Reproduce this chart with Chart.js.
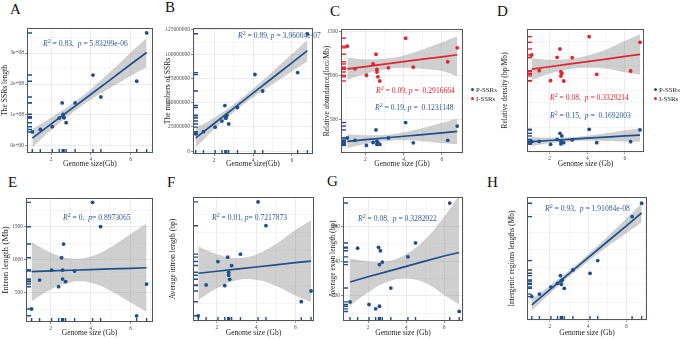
<!DOCTYPE html>
<html>
<head>
<meta charset="utf-8">
<script src="https://cdn.jsdelivr.net/npm/chart.js@4.4.1/dist/chart.umd.min.js"></script>
<style>
  body { margin: 0; background: #fff; width: 685px; height: 339px; position: relative; overflow: hidden; font-family: "Liberation Serif", serif; }
  .box { position: absolute; }
  .letter { position: absolute; font-size: 15px; line-height: 1; color: #111; }
  .ann { position: absolute; font-size: 7.6px; line-height: 1; white-space: nowrap; }
  .ann sup { font-size: 6px; vertical-align: 3px; }
  .blue { color: #2c5a98; }
  .red { color: #e3242b; }
  .leg { position: absolute; font-size: 6.8px; line-height: 1; color: #222; white-space: nowrap; }
  .dot { display: inline-block; width: 3px; height: 3px; border-radius: 50%; margin-right: 2px; vertical-align: 1px; }
</style>
</head>
<body>

<div class="letter" style="left:10px;top:2px">A</div>
<div class="letter" style="left:165px;top:0px">B</div>
<div class="letter" style="left:330px;top:4px">C</div>
<div class="letter" style="left:497px;top:4px">D</div>
<div class="letter" style="left:8px;top:175px">E</div>
<div class="letter" style="left:167px;top:175px">F</div>
<div class="letter" style="left:327px;top:174px">G</div>
<div class="letter" style="left:487px;top:175px">H</div>

<div class="box" style="left:0;top:0"><canvas id="chA" width="165" height="170"></canvas></div>
<div class="box" style="left:163px;top:0"><canvas id="chB" width="167" height="170"></canvas></div>
<div class="box" style="left:322px;top:0"><canvas id="chC" width="148" height="170"></canvas></div>
<div class="box" style="left:500px;top:0"><canvas id="chD" width="150" height="170"></canvas></div>
<div class="box" style="left:0;top:170px"><canvas id="chE" width="165" height="169"></canvas></div>
<div class="box" style="left:168px;top:170px"><canvas id="chF" width="160" height="169"></canvas></div>
<div class="box" style="left:328px;top:170px"><canvas id="chG" width="145" height="169"></canvas></div>
<div class="box" style="left:507px;top:170px"><canvas id="chH" width="150" height="169"></canvas></div>

<div class="ann blue" style="left:43px;top:38px"><i>R</i><sup>2</sup> = 0.83,&nbsp; <i>p</i> = 5.83299e-06</div>
<div class="ann blue" style="left:238px;top:30px"><i>R</i><sup>2</sup> = 0.89, <i>p</i> = 3.96004e-07</div>
<div class="ann red" style="left:376px;top:85px"><i>R</i><sup>2</sup> = 0.09, <i>p</i> = &nbsp;0.2916664</div>
<div class="ann blue" style="left:375px;top:102px"><i>R</i><sup>2</sup> = 0.19, <i>p</i> = &nbsp;0.1231148</div>
<div class="ann red" style="left:550px;top:92px"><i>R</i><sup>2</sup> = 0.08,&nbsp; <i>p</i> = 0.3329214</div>
<div class="ann blue" style="left:550px;top:110px"><i>R</i><sup>2</sup> = 0.15,&nbsp; <i>p</i> = &nbsp;0.1692003</div>
<div class="ann blue" style="left:63px;top:212px"><i>R</i><sup>2</sup> = 0,&nbsp; <i>p</i>= 0.8973065</div>
<div class="ann blue" style="left:212px;top:212px"><i>R</i><sup>2</sup> = 0.01, <i>p</i>= 0.7217873</div>
<div class="ann blue" style="left:358px;top:213px"><i>R</i><sup>2</sup> = 0.08,&nbsp; <i>p</i> = 0.3282922</div>
<div class="ann blue" style="left:545px;top:203px"><i>R</i><sup>2</sup> = 0.93,&nbsp; <i>p</i> = 1.91084e-08</div>

<div class="leg" style="left:471px;top:87px"><span class="dot" style="background:#1d4f8f"></span>P-SSRs</div>
<div class="leg" style="left:471px;top:96px"><span class="dot" style="background:#e3242b"></span>I-SSRs</div>
<div class="leg" style="left:654px;top:87px"><span class="dot" style="background:#1d4f8f"></span>P-SSRs</div>
<div class="leg" style="left:654px;top:96px"><span class="dot" style="background:#e3242b"></span>I-SSRs</div>

<script>
// genome size (Gb) of each species, x for every panel
const genomeSize = [1.05, 1.45, 2.05, 2.4, 2.55, 2.6, 2.6, 2.65, 2.75, 3.2, 4.1, 4.5, 6.3, 6.8];
// x where the fitted line and its confidence band were read
const fitX = [1.05, 2, 3, 4, 5, 6, 6.8];

// A: SSR length (x 1e8)
const ssrLength = [0.45, 0.53, 0.62, 0.90, 1.39, 1.02, 0.94, 0.91, 0.75, 1.39, 2.29, 1.58, 2.09, 3.65];
const ssrLengthFit = [0.25, 0.71, 1.19, 1.67, 2.15, 2.64, 3.02];
const ssrLengthHi = [0.55, 0.92, 1.34, 1.84, 2.41, 3.02, 3.49];
const ssrLengthLo = [-0.05, 0.51, 1.04, 1.50, 1.89, 2.26, 2.55];
const ssrLengthTicks = ["0e+00", "1e+08", "2e+08", "3e+08"];

// B: number of SSRs (millions)
const ssrCount = [17.9, 20, 24.7, 31, 47, 34, 35, 37, 28, 45, 79, 62, 81, 121];
const ssrCountFit = [13.6, 28.5, 44.1, 59.8, 75.4, 91.1, 103.6];
const ssrCountHi = [23.6, 34.5, 48.1, 64.3, 81.9, 100.1, 114.6];
const ssrCountLo = [3.6, 22.5, 40.1, 55.3, 68.9, 82.1, 92.6];

// C: relative abundance (loci/Mb)
const abundI = [1336, 1080, 1007, 1135, 1245, 1073, 1044, 989, 942, 1091, 1427, 1099, 1160, 1318];
const abundIFit = [1079, 1105, 1133, 1161, 1189, 1216, 1239];
const abundIHi = [1204, 1185, 1193, 1231, 1299, 1380, 1450];
const abundILo = [954, 1025, 1073, 1091, 1079, 1055, 995];
const abundP = [296, 270, 212, 245, 387, 223, 259, 240, 223, 296, 471, 241, 270, 431];
const abundPFit = [258, 277, 296, 316, 335, 355, 370];
const abundPHi = [338, 327, 331, 361, 410, 470, 515];
const abundPLo = [178, 227, 261, 271, 260, 240, 225];

// D: relative density (bp/Mb)
const densI = [39342, 33158, 29210, 38421, 41710, 32763, 31053, 32105, 29079, 38289, 46579, 31711, 33026, 44342];
const densIFit = [33735, 34700, 35710, 36730, 37740, 38760, 39570];
const densIHi = [38035, 37500, 37710, 39130, 41540, 44960, 47570];
const densILo = [29435, 31900, 33710, 34330, 33940, 32560, 31570];
const densP = [5132, 5200, 4079, 6053, 8421, 4211, 5132, 7368, 4737, 5789, 10000, 4737, 5132, 9737];
const densPFit = [5150, 5580, 6030, 6480, 6930, 7380, 7740];
const densPHi = [6950, 6680, 6830, 7480, 8430, 9580, 10440];
const densPLo = [3350, 4480, 5230, 5480, 5430, 5180, 5040];

// E: intron length (Mb)
const intronLen = [253, 692, 843, 591, 1030, 843, 707, 1237, 667, 828, 1869, 1500, 150, 631];
const intronLenFit = [820, 830, 840, 850, 860, 870, 878];
const intronLenHi = [1270, 1110, 1020, 1050, 1190, 1390, 1548];
const intronLenLo = [370, 550, 660, 650, 530, 350, 208];

// F: average intron length (bp)
const avgIntron = [1171, 3243, 4820, 3198, 5113, 4099, 3900, 3626, 4550, 5315, 8829, 7230, 2117, 2838];
const avgIntronFit = [4030, 4165, 4310, 4450, 4595, 4740, 4850];
const avgIntronHi = [5830, 5315, 5060, 5300, 5995, 6940, 7600];
const avgIntronLo = [2230, 3015, 3560, 3600, 3195, 2540, 2100];

// G: average exon length (bp)
const avgExon = [193, 255, 190, 185, 256, 236, 188, 252, 239, 209, 245, 261, 307, 182];
const avgExonFit = [216, 222, 228, 234, 240, 246, 250];
const avgExonHi = [243, 240, 240, 248, 265, 291, 316];
const avgExonLo = [189, 204, 216, 220, 215, 201, 190];

// H: intergenic regions length (Mb)
const intergenic = [760, 900, 1300, 1515, 1951, 1648, 1458, 1705, 1231, 2273, 2083, 2803, 5303, 6061];
const intergenicFit = [293, 1155, 2060, 2970, 3875, 4780, 5510];
const intergenicHi = [613, 1385, 2240, 3170, 4155, 5200, 6050];
const intergenicLo = [-27, 925, 1880, 2770, 3595, 4360, 4970];

const BLUE = "#1d4f8f";
const RED = "#e3242b";
const BAND = "rgba(140,140,140,0.42)";
const FONT = "'Liberation Serif', serif";

const pts = (xs, ys) => xs.map((x, i) => ({ x, y: ys[i] }));

// rug marks and the panel border, drawn over the data
const rugPlugin = {
  id: "rug",
  afterDatasetsDraw(chart) {
    const { ctx, chartArea: a, scales } = chart;
    ctx.save();
    chart.data.datasets.forEach((ds) => {
      if (!ds.rug) return;
      ctx.strokeStyle = ds.backgroundColor;
      ctx.lineWidth = 1.4;
      ds.data.forEach((p) => {
        ctx.beginPath();
        const py = scales.y.getPixelForValue(p.y);
        ctx.moveTo(a.left, py);
        ctx.lineTo(a.left + 5, py);
        if (ds.rugX) {
          const px = scales.x.getPixelForValue(p.x);
          ctx.moveTo(px, a.bottom);
          ctx.lineTo(px, a.bottom - 4);
        }
        ctx.stroke();
      });
    });
    ctx.strokeStyle = "#555";
    ctx.lineWidth = 1;
    ctx.strokeRect(a.left + 0.5, a.top + 0.5, a.width - 1, a.height - 1);
    ctx.restore();
  },
};

function series(ys, fit, color, rugX) {
  return [
    { type: "scatter", data: pts(genomeSize, ys), backgroundColor: color, borderWidth: 0,
      pointRadius: 1.9, rug: true, rugX, order: 1 },
    { type: "line", data: pts(fitX, fit), borderColor: color, borderWidth: 1.7,
      pointRadius: 0, fill: false, order: 2 },
  ];
}

function band(hi, lo) {
  return [
    { type: "line", data: pts(fitX, hi), borderWidth: 0, pointRadius: 0, tension: 0.4,
      backgroundColor: BAND, fill: "+1", order: 3 },
    { type: "line", data: pts(fitX, lo), borderWidth: 0, pointRadius: 0, tension: 0.4,
      fill: false, order: 3 },
  ];
}

function panel(id, o) {
  const isMajor = (v, step) => Math.abs(v / step - Math.round(v / step)) < 1e-6;
  const gridColor = (step) => (c) => (isMajor(c.tick.value, step) ? "#e2e2e2" : "#efefef");
  const tickColor = (step) => (c) => (isMajor(c.tick.value, step) ? "#555" : "rgba(0,0,0,0)");
  new Chart(document.getElementById(id), {
    type: "scatter",
    data: { datasets: o.datasets },
    options: {
      responsive: false,
      animation: false,
      layout: { padding: { top: o.padTop, right: o.padRight, left: 0, bottom: 0 } },
      plugins: { legend: { display: false }, tooltip: { enabled: false } },
      scales: {
        x: {
          type: "linear", min: o.x[0], max: o.x[1],
          afterFit: (s) => { s.height = o.xH; },
          ticks: { stepSize: 1, includeBounds: false, autoSkip: false, maxRotation: 0, padding: 1,
            font: { family: FONT, size: 5.5 }, color: "#4d4d4d",
            callback: (v) => (v % 2 === 0 ? v : "") },
          grid: { color: gridColor(2), lineWidth: 0.7, tickLength: 2, tickColor: tickColor(2) },
          border: { display: false },
          title: { display: true, text: o.xTitle, color: "#222", font: { family: FONT, size: 7.6 },
            padding: { top: 0, bottom: 1 } },
        },
        y: {
          type: "linear", min: o.y[0], max: o.y[1],
          afterFit: (s) => { s.width = o.yW; },
          ticks: { stepSize: o.step / 2, includeBounds: false, autoSkip: false, padding: 1,
            font: { family: FONT, size: 5.5 }, color: "#4d4d4d",
            callback: (v) => (isMajor(v, o.step) ? (o.fmt ? o.fmt(v) : v) : "") },
          grid: { color: gridColor(o.step), lineWidth: 0.7, tickLength: 2, tickColor: tickColor(o.step) },
          border: { display: false },
          title: { display: true, text: o.yTitle, color: "#222",
            font: { family: FONT, size: o.yTitleSize || 7.6 }, padding: { top: 0, bottom: 1 } },
        },
      },
    },
    plugins: [rugPlugin],
  });
}

panel("chA", {
  x: [0.78, 7.12], y: [-0.23, 3.81], step: 1, yW: 27, xH: 17, padTop: 28, padRight: 12,
  fmt: (v) => ssrLengthTicks[Math.round(v)],
  yTitle: "The SSRs length", xTitle: "Genome size(Gb)",
  datasets: [...series(ssrLength, ssrLengthFit, BLUE, true), ...band(ssrLengthHi, ssrLengthLo)],
});

panel("chB", {
  x: [0.91, 7.09], y: [-3, 127], step: 25, yW: 30, xH: 16, padTop: 28, padRight: 17,
  fmt: (v) => String(Math.round(v * 1000000)),
  yTitle: "The numbers of SSRs", xTitle: "Genome size(Gb)",
  datasets: [...series(ssrCount, ssrCountFit, BLUE, true), ...band(ssrCountHi, ssrCountLo)],
});

panel("chC", {
  x: [0.72, 7.1], y: [126, 1531], step: 500, yW: 19, xH: 17, padTop: 29, padRight: 7,
  yTitle: "Relative abundance (loci/Mb)", xTitle: "Genome size (Gb)",
  datasets: [...series(abundP, abundPFit, BLUE, false), ...series(abundI, abundIFit, RED, false),
    ...band(abundPHi, abundPLo), ...band(abundIHi, abundILo)],
});

panel("chD", {
  x: [0.8, 7.01], y: [1040, 49600], step: 10000, yW: 27, xH: 18, padTop: 29, padRight: 6,
  yTitle: "Relative density (bp/Mb)", xTitle: "Genome size (Gb)",
  datasets: [...series(densP, densPFit, BLUE, false), ...series(densI, densIFit, RED, false),
    ...band(densPHi, densPLo), ...band(densIHi, densILo)],
});

panel("chE", {
  x: [0.77, 7.12], y: [56, 1935], step: 500, yW: 26, xH: 17, padTop: 28, padRight: 12,
  yTitle: "Intron length (Mb)", xTitle: "Genome size (Gb)", yTitleSize: 9,
  datasets: [...series(intronLen, intronLenFit, BLUE, true), ...band(intronLenHi, intronLenLo)],
});

panel("chF", {
  x: [0.78, 6.95], y: [820, 9160], step: 2500, yW: 25, xH: 18, padTop: 27, padRight: 14,
  yTitle: "Average intron length (bp)", xTitle: "Genome size (Gb)",
  datasets: [...series(avgIntron, avgIntronFit, BLUE, true), ...band(avgIntronHi, avgIntronLo)],
});

panel("chG", {
  x: [0.68, 7.0], y: [171, 314], step: 40, yW: 15, xH: 18, padTop: 27, padRight: 10,
  yTitle: "Average exon length (bp)", xTitle: "Genome size (Gb)",
  datasets: [...series(avgExon, avgExonFit, BLUE, true), ...band(avgExonHi, avgExonLo)],
});

panel("chH", {
  x: [0.8, 7.08], y: [-570, 6415], step: 2000, yW: 20, xH: 19, padTop: 27, padRight: 10,
  yTitle: "Intergenic regions lengths (Mb)", xTitle: "Genome size (Gb)",
  datasets: [...series(intergenic, intergenicFit, BLUE, true), ...band(intergenicHi, intergenicLo)],
});
</script>
</body>
</html>
